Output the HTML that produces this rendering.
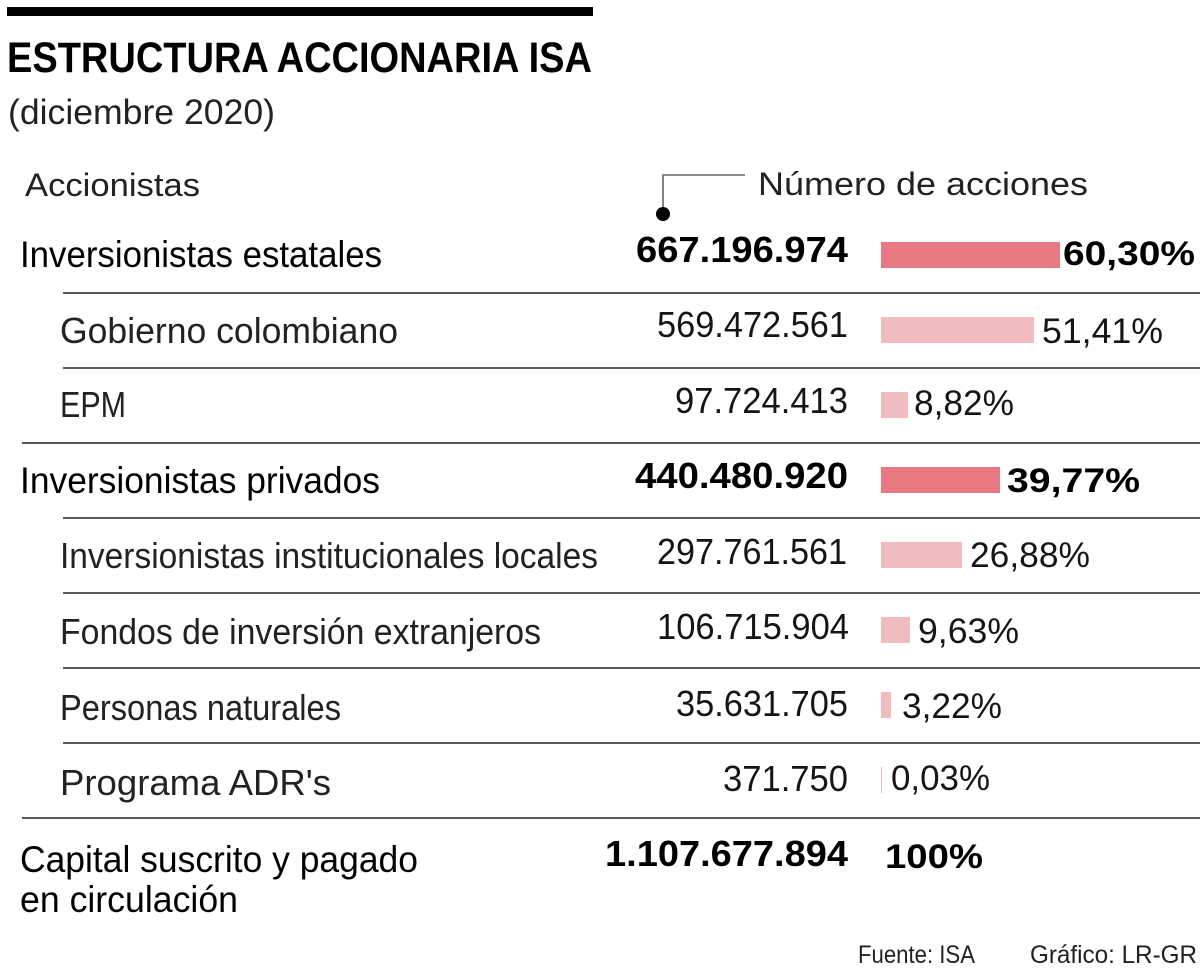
<!DOCTYPE html>
<html>
<head>
<meta charset="utf-8">
<style>
  html, body { margin: 0; padding: 0; background: #ffffff; }
  body { width: 1200px; height: 972px; overflow: hidden; }
  svg { display: block; }
  text { font-family: "Liberation Sans", Arial, sans-serif; }
  .b { font-weight: bold; fill: #000; }
  .h { fill: #000; font-size: 37px; }
  .s { fill: #222; font-size: 36px; }
  .n { fill: #151515; font-size: 36px; }
  .p { fill: #151515; font-size: 35px; }
  .nb { font-size: 36px; }
  .pb { font-size: 34px; }
  .dark { fill: #e87882; }
  .light { fill: #f0bcc0; }
  .ln { fill: #5a5a5a; }
</style>
</head>
<body>
<svg width="1200" height="972" viewBox="0 0 1200 972" xmlns="http://www.w3.org/2000/svg">
  <rect x="0" y="0" width="1200" height="972" fill="#ffffff"/>

  <!-- top bar -->
  <rect x="7" y="7" width="586" height="9" fill="#000"/>

  <!-- title -->
  <text x="7" y="72" class="b" font-size="43" textLength="585" lengthAdjust="spacingAndGlyphs">ESTRUCTURA ACCIONARIA ISA</text>
  <text x="8" y="124" font-size="35" fill="#222" textLength="267" lengthAdjust="spacingAndGlyphs">(diciembre 2020)</text>

  <!-- column headers -->
  <text x="25" y="196" font-size="32" fill="#222" textLength="175" lengthAdjust="spacingAndGlyphs">Accionistas</text>
  <text x="758" y="195" font-size="32" fill="#222" textLength="330" lengthAdjust="spacingAndGlyphs">Número de acciones</text>

  <!-- connector -->
  <polyline points="663,214 663,175 745,175" fill="none" stroke="#666" stroke-width="1.6"/>
  <circle cx="663" cy="214" r="7" fill="#000"/>

  <!-- separator lines -->
  <rect class="ln" x="63" y="292" width="1137" height="2"/>
  <rect class="ln" x="63" y="367" width="1137" height="2"/>
  <rect class="ln" x="22" y="442" width="1178" height="2"/>
  <rect class="ln" x="63" y="517" width="1137" height="2"/>
  <rect class="ln" x="63" y="592" width="1137" height="2"/>
  <rect class="ln" x="63" y="667" width="1137" height="2"/>
  <rect class="ln" x="63" y="742" width="1137" height="2"/>
  <rect class="ln" x="22" y="817" width="1178" height="2"/>

  <!-- Row 1 -->
  <text x="20" y="267" class="h" textLength="362" lengthAdjust="spacingAndGlyphs">Inversionistas estatales</text>
  <text x="636" y="262" class="b nb" textLength="212" lengthAdjust="spacingAndGlyphs">667.196.974</text>
  <rect class="dark" x="881" y="242" width="179" height="26"/>
  <text x="1063" y="265" class="b pb" textLength="132" lengthAdjust="spacingAndGlyphs">60,30%</text>

  <!-- Row 2 -->
  <text x="60" y="343" class="s" textLength="338" lengthAdjust="spacingAndGlyphs">Gobierno colombiano</text>
  <text x="657" y="337" class="n" textLength="191" lengthAdjust="spacingAndGlyphs">569.472.561</text>
  <rect class="light" x="881" y="317" width="153" height="26"/>
  <text x="1042" y="343" class="p" textLength="121" lengthAdjust="spacingAndGlyphs">51,41%</text>

  <!-- Row 3 -->
  <text x="60" y="417" class="s" textLength="66" lengthAdjust="spacingAndGlyphs">EPM</text>
  <text x="675" y="413" class="n" textLength="173" lengthAdjust="spacingAndGlyphs">97.724.413</text>
  <rect class="light" x="881" y="392" width="27" height="26"/>
  <text x="914" y="415" class="p" textLength="100" lengthAdjust="spacingAndGlyphs">8,82%</text>

  <!-- Row 4 -->
  <text x="20" y="493" class="h" textLength="360" lengthAdjust="spacingAndGlyphs">Inversionistas privados</text>
  <text x="635" y="488" class="b nb" textLength="213" lengthAdjust="spacingAndGlyphs">440.480.920</text>
  <rect class="dark" x="881" y="467" width="119" height="26"/>
  <text x="1007" y="492" class="b pb" textLength="133" lengthAdjust="spacingAndGlyphs">39,77%</text>

  <!-- Row 5 -->
  <text x="60" y="568" class="s" textLength="538" lengthAdjust="spacingAndGlyphs">Inversionistas institucionales locales</text>
  <text x="657" y="564" class="n" textLength="190" lengthAdjust="spacingAndGlyphs">297.761.561</text>
  <rect class="light" x="881" y="542" width="81" height="26"/>
  <text x="970" y="567" class="p" textLength="120" lengthAdjust="spacingAndGlyphs">26,88%</text>

  <!-- Row 6 -->
  <text x="60" y="644" class="s" textLength="481" lengthAdjust="spacingAndGlyphs">Fondos de inversión extranjeros</text>
  <text x="657" y="639" class="n" textLength="192" lengthAdjust="spacingAndGlyphs">106.715.904</text>
  <rect class="light" x="881" y="617" width="29" height="26"/>
  <text x="918" y="643" class="p" textLength="101" lengthAdjust="spacingAndGlyphs">9,63%</text>

  <!-- Row 7 -->
  <text x="60" y="720" class="s" textLength="281" lengthAdjust="spacingAndGlyphs">Personas naturales</text>
  <text x="676" y="716" class="n" textLength="172" lengthAdjust="spacingAndGlyphs">35.631.705</text>
  <rect class="light" x="881" y="692" width="10" height="26"/>
  <text x="902" y="718" class="p" textLength="100" lengthAdjust="spacingAndGlyphs">3,22%</text>

  <!-- Row 8 -->
  <text x="60" y="795" class="s" textLength="271" lengthAdjust="spacingAndGlyphs">Programa ADR's</text>
  <text x="723" y="791" class="n" textLength="125" lengthAdjust="spacingAndGlyphs">371.750</text>
  <rect class="light" x="881" y="767" width="1" height="26"/>
  <text x="891" y="790" class="p" textLength="99" lengthAdjust="spacingAndGlyphs">0,03%</text>

  <!-- Total -->
  <text x="20" y="872" class="h" textLength="398" lengthAdjust="spacingAndGlyphs">Capital suscrito y pagado</text>
  <text x="20" y="912" class="h" textLength="218" lengthAdjust="spacingAndGlyphs">en circulación</text>
  <text x="605" y="866" class="b nb" textLength="243" lengthAdjust="spacingAndGlyphs">1.107.677.894</text>
  <text x="885" y="868" class="b pb" textLength="98" lengthAdjust="spacingAndGlyphs">100%</text>

  <!-- footer -->
  <text x="858" y="963" font-size="25" fill="#222" textLength="117" lengthAdjust="spacingAndGlyphs">Fuente: ISA</text>
  <text x="1030" y="963" font-size="25" fill="#222" textLength="167" lengthAdjust="spacingAndGlyphs">Gráfico: LR-GR</text>
</svg>
</body>
</html>
